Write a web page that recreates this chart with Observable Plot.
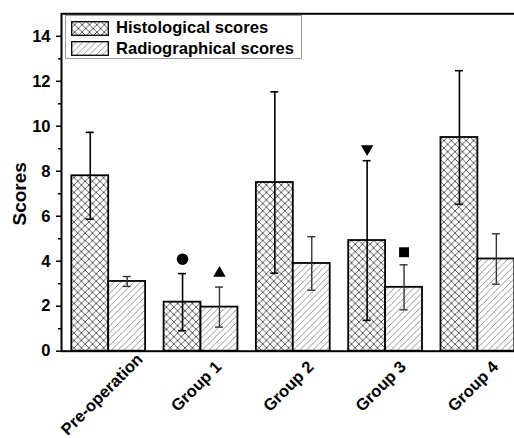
<!DOCTYPE html>
<html>
<head>
<meta charset="utf-8">
<script src="https://cdn.jsdelivr.net/npm/d3@7"></script>
<script src="https://cdn.jsdelivr.net/npm/@observablehq/plot@0.6"></script>
<style>
  html, body { margin: 0; padding: 0; background: white; }
  #wrap { position: relative; width: 514px; height: 438px; overflow: hidden; font-family: Arial, "Liberation Sans", sans-serif; }
  #wrap svg.chart { overflow: hidden; max-width: none; }
  #legend { position: absolute; left: 65px; top: 15px; width: 237px; height: 44px; border: 1px solid #9a9a9a; background: white; box-sizing: border-box; }
  .item { position: absolute; left: 5px; height: 16px; display: flex; align-items: center; }
  .item span { font-weight: bold; font-size: 16.6px; margin-left: 7px; color: #000; line-height: 16px; }
  .item svg { display: block; }
</style>
</head>
<body>
<div id="wrap"></div>
<script>
// ---- data ----
const groups = ["Pre-operation", "Group 1", "Group 2", "Group 3", "Group 4"];
const seriesNames = ["Histological scores", "Radiographical scores"];
const histMean = [7.8, 2.18, 7.5, 4.92, 9.5];
const histSD = [1.93, 1.27, 4.03, 3.55, 2.97];
const radioMean = [3.1, 1.96, 3.9, 2.84, 4.1];
const radioSD = [0.22, 0.89, 1.19, 1.0, 1.12];
const markerGroup = ["Group 1", "Group 1", "Group 3", "Group 3"];
const markerSeries = ["hist", "radio", "hist", "radio"];
const markerY = [4.09, 3.47, 9.0, 4.4];
const markerSymbol = ["circle", "triangle", "triangle-down", "square"];
const yTicks = [0, 2, 4, 6, 8, 10, 12, 14];
const yMinorTicks = [1, 3, 5, 7, 9, 11, 13];

// ---- tables built from the arrays ----
const hist = groups.map((g, i) => ({group: g, value: histMean[i], lo: histMean[i] - histSD[i], hi: histMean[i] + histSD[i]}));
const radio = groups.map((g, i) => ({group: g, value: radioMean[i], lo: radioMean[i] - radioSD[i], hi: radioMean[i] + radioSD[i]}));
const markers = markerGroup.map((g, i) => ({group: g, series: markerSeries[i], y: markerY[i], symbol: markerSymbol[i]}));

// ---- layout ----
const W = 514, H = 438;
const mLeft = 61, mRight = -10.6, mTop = 13.3, mBottom = 87.3;
const padInner = 0.2, padOuter = 0.1116;
const band = d3.scaleBand(groups, [mLeft, W - mRight]).paddingInner(padInner).paddingOuter(padOuter);
const half = band.bandwidth() / 2;   // each series takes half of a group's band
const cap = 4;

const font = "Arial, 'Liberation Sans', sans-serif";

const defs = () => {
  const d = d3.create("svg:defs");
  const p1 = d.append("pattern").attr("id", "xhatch").attr("patternUnits", "userSpaceOnUse").attr("width", 7.4).attr("height", 7.4);
  p1.append("rect").attr("width", 7.4).attr("height", 7.4).attr("fill", "white");
  p1.append("path").attr("d", "M0,0L7.4,7.4M7.4,0L0,7.4M-1,1L1,-1M6.4,8.4L8.4,6.4M-1,6.4L1,8.4M6.4,-1L8.4,1")
    .attr("stroke", "#333").attr("stroke-width", 0.8).attr("fill", "none");
  const p2 = d.append("pattern").attr("id", "dhatch").attr("patternUnits", "userSpaceOnUse").attr("width", 6.5).attr("height", 6.5);
  p2.append("rect").attr("width", 6.5).attr("height", 6.5).attr("fill", "white");
  p2.append("path").attr("d", "M0,6.5L6.5,0M-1,1L1,-1M5.5,7.5L7.5,5.5")
    .attr("stroke", "#777").attr("stroke-width", 0.8).attr("fill", "none");
  return d.node();
};

const isPre = d => d === groups[0];
const isRound = d => d.symbol === "circle" || d.symbol === "square";

const chart = Plot.plot({
  width: W,
  height: H,
  marginLeft: mLeft,
  marginRight: mRight,
  marginTop: mTop,
  marginBottom: mBottom,
  className: "chart",
  style: {fontFamily: font, background: "white", overflow: "hidden"},
  x: {domain: groups, paddingInner: padInner, paddingOuter: padOuter, round: false, axis: null},
  y: {domain: [0, 15], axis: null},
  marks: [
    defs,
    Plot.barY(hist, {x: "group", y: "value", insetRight: half, fill: "url(#xhatch)", stroke: "black", strokeWidth: 1.8}),
    Plot.barY(radio, {x: "group", y: "value", insetLeft: half, fill: "url(#dhatch)", stroke: "black", strokeWidth: 1.8}),
    // error bars
    Plot.ruleX(hist, {x: "group", y1: "lo", y2: "hi", dx: -half / 2, stroke: "black", strokeWidth: 1.6}),
    Plot.tickY(hist, {x: "group", y: "hi", insetLeft: half / 2 - cap, insetRight: 1.5 * half - cap, stroke: "black", strokeWidth: 1.6}),
    Plot.tickY(hist, {x: "group", y: "lo", insetLeft: half / 2 - cap, insetRight: 1.5 * half - cap, stroke: "black", strokeWidth: 1.6}),
    Plot.ruleX(radio, {x: "group", y1: "lo", y2: "hi", dx: half / 2, stroke: "#333", strokeWidth: 1.4}),
    Plot.tickY(radio, {x: "group", y: "hi", insetLeft: 1.5 * half - cap, insetRight: half / 2 - cap, stroke: "#333", strokeWidth: 1.4}),
    Plot.tickY(radio, {x: "group", y: "lo", insetLeft: 1.5 * half - cap, insetRight: half / 2 - cap, stroke: "#333", strokeWidth: 1.4}),
    // significance markers
    Plot.dot(markers.filter(d => d.series === "hist" && isRound(d)), {x: "group", y: "y", dx: -half / 2, symbol: "symbol", r: 5.8, fill: "black"}),
    Plot.dot(markers.filter(d => d.series === "radio" && isRound(d)), {x: "group", y: "y", dx: half / 2, symbol: "symbol", r: 5.6, fill: "black"}),
    Plot.dot(markers.filter(d => d.series === "radio" && d.symbol === "triangle"), {x: "group", y: "y", dx: half / 2, symbol: "triangle", r: 4.6, fill: "black"}),
    Plot.dot(markers.filter(d => d.series === "hist" && d.symbol === "triangle-down"), {x: "group", y: "y", dx: -half / 2, symbol: "triangle", rotate: 180, r: 4.6, fill: "black"}),
    // axes
    Plot.frame({stroke: "black", strokeWidth: 2}),
    Plot.axisY(yTicks, {tickSize: 5, tickPadding: 6, fontSize: 16.5, fontWeight: "bold", fill: "black", stroke: "black", strokeWidth: 1.5, label: null}),
    Plot.axisY(yMinorTicks, {tickSize: 3, tickFormat: () => "", stroke: "black", strokeWidth: 1.5, label: null}),
    Plot.text(["Scores"], {frameAnchor: "left", dx: -42, dy: 43, rotate: -90, text: d => d, fontSize: 19, fontWeight: "bold", fill: "black"}),
    Plot.text(groups.filter(isPre), {x: d => d, frameAnchor: "bottom", text: d => d, rotate: -45, textAnchor: "middle", dx: -3, dy: 47, fontSize: 16.5, fontWeight: "bold", fill: "black"}),
    Plot.text(groups.filter(d => !isPre(d)), {x: d => d, frameAnchor: "bottom", text: d => d, rotate: -45, textAnchor: "middle", dx: -1, dy: 39, fontSize: 16.5, fontWeight: "bold", fill: "black"})
  ]
});

const wrap = document.getElementById("wrap");
wrap.appendChild(chart);

// legend overlay
const legend = document.createElement("div");
legend.id = "legend";
const fills = ["url(#xhatch)", "url(#dhatch)"];
seriesNames.forEach((name, i) => {
  const item = document.createElement("div");
  item.className = "item";
  item.style.top = (4 + i * 20.5) + "px";
  item.innerHTML = `<svg width="38" height="15"><rect x="0.7" y="0.7" width="36.6" height="13.6" fill="${fills[i]}" stroke="black" stroke-width="1.3"/></svg><span>${name}</span>`;
  legend.appendChild(item);
});
wrap.appendChild(legend);
</script>
</body>
</html>
